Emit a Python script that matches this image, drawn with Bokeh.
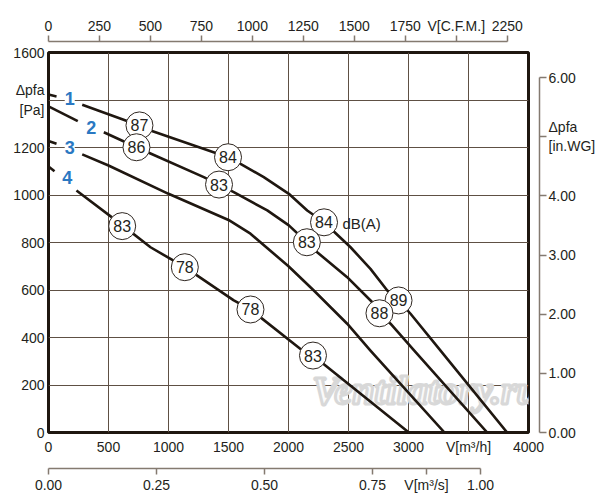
from bokeh.plotting import figure
from bokeh.models import (Range1d, LinearAxis, FixedTicker, Label,
                          ColumnDataSource, NumeralTickFormatter)
from bokeh.embed import file_html
from bokeh.resources import INLINE
from bokeh.core.properties import value

# ---------------- data ----------------
x_ticks_m3h = [0, 500, 1000, 1500, 2000, 2500, 3000, 3500, 4000]
y_ticks_pa = [0, 200, 400, 600, 800, 1000, 1200, 1400, 1600]
cfm_ticks = [0, 250, 500, 750, 1000, 1250, 1500, 1750, 2000, 2250]
m3s_ticks = [0, 0.25, 0.5, 0.75, 0.875, 1.0]
inwg_ticks = [0, 1, 2, 3, 4, 5, 6]

curve_ids = ["1", "2", "3", "4"]

c1_head_q = [0, 67]
c1_head_p = [1423, 1415]
c1_q = [281, 758, 850, 1496, 1600, 1794, 2003, 2156, 2296, 2517, 2683, 2823, 2917, 3017, 3267, 3822]
c1_p = [1380, 1293, 1272, 1159, 1131, 1075, 1005, 935, 885, 780, 689, 598, 556, 500, 345, 0]

c2_head_q = [0, 244]
c2_head_p = [1373, 1311]
c2_q = [461, 733, 850, 1294, 1421, 1544, 1823, 2003, 2153, 2239, 2489, 2711, 2758, 2850, 3048, 3656]
c2_p = [1264, 1201, 1175, 1075, 1044, 1012, 935, 872, 801, 759, 654, 542, 502, 458, 345, 0]

c3_head_q = [0, 67]
c3_head_p = [1227, 1216]
c3_q = [281, 500, 1000, 1500, 1683, 2000, 2211, 2489, 2683, 3300]
c3_p = [1171, 1124, 1005, 895, 837, 700, 598, 458, 345, 0]

c4_head_q = [0, 50]
c4_head_p = [1120, 1100]
c4_q = [233, 617, 850, 1017, 1136, 1544, 1683, 2100, 2204, 3003]
c4_p = [1019, 872, 780, 731, 696, 556, 518, 352, 324, 0]

db_q = [758, 1496, 2296, 2917, 733, 1421, 2153, 2758, 614, 1136, 1683, 2204]
db_p = [1293, 1159, 885, 556, 1201, 1044, 801, 502, 869, 696, 518, 324]
db_val = ["87", "84", "84", "89", "86", "83", "83", "88", "83", "78", "78", "83"]

M3H_PER_CFM = 1.69901
PA_PER_INWG = 249.0889

# ---------------- styles ----------------
DARK = "#1f1710"
TXT = "#231f20"
GRID = "#5e5044"
AXG = "#847a70"
BLUE = "#2a78c2"
FONT = "Liberation Sans"

p = figure(width=600, height=500,
           x_range=Range1d(0, 4000), y_range=Range1d(0, 1600),
           output_backend="svg", toolbar_location=None,
           min_border_left=48, min_border_right=72,
           min_border_top=52, min_border_bottom=68)
p.title.visible = False
p.background_fill_color = "white"
p.border_fill_color = "white"
p.outline_line_color = DARK
p.outline_line_width = 3

p.extra_x_ranges = {"cfm": Range1d(0, 4000 / M3H_PER_CFM),
                    "m3s": Range1d(0, 4000 / 3600)}
p.extra_y_ranges = {"inwg": Range1d(0, 1600 / PA_PER_INWG)}

# grids
p.xgrid.ticker = FixedTicker(ticks=x_ticks_m3h)
p.ygrid.ticker = FixedTicker(ticks=y_ticks_pa)
p.xgrid.grid_line_color = GRID
p.ygrid.grid_line_color = GRID
p.xgrid.grid_line_width = 1
p.ygrid.grid_line_width = 1

def style_axis(ax, tick_out, standoff, line_color=None):
    ax.major_tick_in = 0
    ax.major_tick_out = tick_out
    ax.minor_tick_in = 0
    ax.minor_tick_out = 0
    ax.minor_tick_line_color = None
    ax.major_label_standoff = standoff
    ax.major_label_text_font = FONT
    ax.major_label_text_font_size = "14px"
    ax.major_label_text_color = TXT
    ax.axis_line_color = line_color
    ax.major_tick_line_color = line_color
    ax.axis_line_width = 1.5
    ax.major_tick_line_width = 1.5

def spacer(place, px, mid, **kw):
    # invisible axis that only reserves px pixels between frame and next axis
    ax = LinearAxis(ticker=FixedTicker(ticks=[mid]), **kw)
    style_axis(ax, px, 0, "white")
    ax.axis_line_color = None
    ax.major_tick_line_alpha = 0.001
    ax.major_label_overrides = {mid: ""}
    p.add_layout(ax, place)

# main axes
p.xaxis.ticker = FixedTicker(ticks=x_ticks_m3h)
p.xaxis.major_label_overrides = {3500: "V[m³/h]"}
style_axis(p.xaxis[0], 0, 6)
p.yaxis.ticker = FixedTicker(ticks=y_ticks_pa)
p.yaxis.major_label_overrides = {1400: "Δpfa\n[Pa]"}
style_axis(p.yaxis[0], 0, 4)

# top CFM axis (with a gap above the frame)
spacer("above", 11, 2000)
ax_top = LinearAxis(x_range_name="cfm", ticker=FixedTicker(ticks=cfm_ticks),
                    bounds=(0, 2250),
                    major_label_overrides={2000: "V[C.F.M.]"})
style_axis(ax_top, 6, 2, AXG)
p.add_layout(ax_top, "above")

# right in.WG axis
spacer("right", 11, 800)
ax_r = LinearAxis(y_range_name="inwg", ticker=FixedTicker(ticks=inwg_ticks),
                  formatter=NumeralTickFormatter(format="0.00"),
                  bounds=(0, 6), major_label_overrides={5: "Δpfa\n[in.WG]"})
style_axis(ax_r, 7, 2, AXG)
p.add_layout(ax_r, "right")

# bottom m3/s axis
spacer("below", 11, 2000)
ax_b2 = LinearAxis(x_range_name="m3s", ticker=FixedTicker(ticks=m3s_ticks),
                   formatter=NumeralTickFormatter(format="0.00"),
                   bounds=(0, 1), major_label_overrides={0.875: "V[m³/s]"})
style_axis(ax_b2, 6, 2, AXG)
p.add_layout(ax_b2, "below")

def lab(x, y, text, size="14px", align="left", color=TXT, style="normal", **kw):
    l = Label(x=x, y=y, text=text, text_font=FONT, text_font_size=size,
              text_align=align, text_baseline="middle", text_color=color,
              text_font_style=style, **kw)
    p.add_layout(l)
    return l

# watermark
wm = Label(x=3142, y=177, text="Ventilatory.ru", text_font="Liberation Serif",
           text_font_size="40px", text_font_style="bold italic",
           text_align="center", text_baseline="middle",
           text_color="#fafafa", level="underlay")
try:
    wm.text_outline_color = "#d8d8d8"
except Exception:
    wm.text_color = "#ebebeb"
p.add_layout(wm)

# curves
heads = [(c1_head_q, c1_head_p), (c2_head_q, c2_head_p), (c3_head_q, c3_head_p), (c4_head_q, c4_head_p)]
mains = [(c1_q, c1_p), (c2_q, c2_p), (c3_q, c3_p), (c4_q, c4_p)]
for (hq, hp), (mq, mp) in zip(heads, mains):
    p.line(hq, hp, line_color=DARK, line_width=2.6)
    p.line(mq, mp, line_color=DARK, line_width=2.6, line_join="round")

# dB circles
src = ColumnDataSource(dict(q=db_q, p=db_p, t=db_val))
p.scatter("q", "p", source=src, marker="circle", size=27,
          fill_color="white", line_color="#2e2620", line_width=1)
p.text("q", "p", text="t", source=src, text_align="center", text_baseline="middle",
       text_font=value(FONT), text_font_size="16px", text_color=TXT)

lab(2450, 882, "dB(A)", size="15px")

# curve numbers
num_pos = [(177, 1405), (356, 1285), (177, 1201), (156, 1075)]
for cid, (qx, py) in zip(curve_ids, num_pos):
    lab(qx, py, cid, size="18px", align="center", color=BLUE, style="bold",
        background_fill_color="white")

open("out.html", "w").write(file_html(p, INLINE))
